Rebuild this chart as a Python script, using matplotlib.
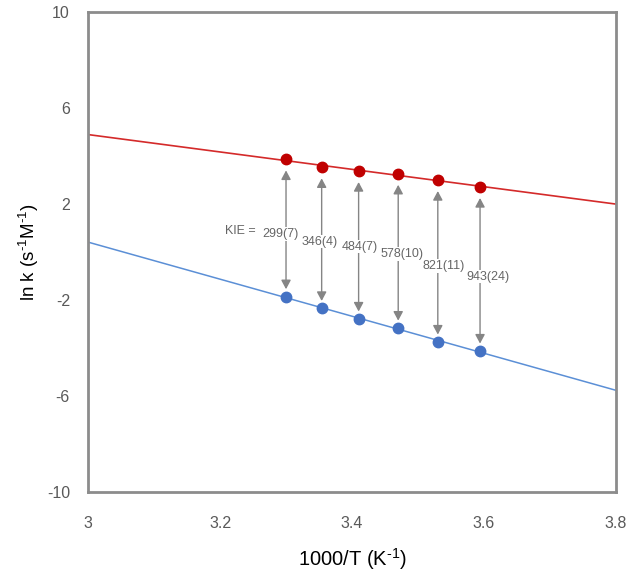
import matplotlib
matplotlib.use("Agg")
import matplotlib.pyplot as plt
from matplotlib import font_manager
import numpy as np

# Data
inv_T = [3.300, 3.354, 3.410, 3.470, 3.530, 3.594]
lnk_H = [3.86, 3.53, 3.375, 3.26, 3.00, 2.71]
lnk_D = [-1.86, -2.35, -2.79, -3.17, -3.75, -4.125]
kie_labels = ["299(7)", "346(4)", "484(7)", "578(10)", "821(11)", "943(24)"]
x_ticks = [3, 3.2, 3.4, 3.6, 3.8]
y_ticks = [-10, -6, -2, 2, 6, 10]

# Layout (label positions, data units)
label_x = [3.291, 3.3515, 3.412, 3.476, 3.539, 3.606]
label_y = [0.75, 0.43, 0.22, -0.08, -0.58, -1.03]

plt.rcParams['font.family'] = ['Liberation Sans', 'DejaVu Sans']
plt.rcParams['mathtext.fontset'] = 'custom'
plt.rcParams['mathtext.rm'] = 'Liberation Sans'
plt.rcParams['mathtext.it'] = 'Liberation Sans:italic'
plt.rcParams['mathtext.default'] = 'regular'
plt.rcParams['axes.unicode_minus'] = False

names = {f.name for f in font_manager.fontManager.ttflist}
if 'Liberation Sans Narrow' in names:
    lab_family, lab_size = ['Liberation Sans Narrow', 'Liberation Sans'], 11
else:
    lab_family, lab_size = ['Liberation Sans', 'DejaVu Sans'], 9.0

fig = plt.figure(figsize=(6.38, 5.86), dpi=100)
ax = fig.add_axes([0.138, 0.1604, 0.8275, 0.8191])

xs = np.array([3.0, 3.8])
red_fit = np.polyfit(inv_T, lnk_H, 1)
blue_fit = np.polyfit(inv_T, lnk_D, 1)
ax.plot(xs, np.polyval(red_fit, xs), color='#d42a2a', lw=1.2, zorder=2)
ax.plot(xs, np.polyval(blue_fit, xs), color='#5b8fd6', lw=1.1, zorder=2)
ax.plot(inv_T, lnk_H, 'o', color='#c00000', ms=7.5, zorder=3)
ax.plot(inv_T, lnk_D, 'o', color='#4472c4', ms=7.5, zorder=3)

gray = '#858585'
txt_color = '#666666'
for x, yh, yd in zip(inv_T, lnk_H, lnk_D):
    ax.annotate('', xy=(x, yh - 0.46), xytext=(x, yd + 0.31),
                arrowprops=dict(arrowstyle='<|-|>,head_length=0.45,head_width=0.24',
                                color=gray, lw=1.0,
                                mutation_scale=12, shrinkA=0, shrinkB=0),
                zorder=1)
for lx, ly, lab in zip(label_x, label_y, kie_labels):
    # white mask behind the label (drawn below all label texts)
    ax.text(lx, ly, lab, ha='center', va='center', fontsize=lab_size,
            family=lab_family, color='none',
            bbox=dict(facecolor='white', edgecolor='none', pad=0.5), zorder=4)
    ax.text(lx, ly, lab, ha='center', va='center', fontsize=lab_size,
            family=lab_family, color=txt_color, zorder=5)
ax.text(3.230, 0.89, 'KIE =', ha='center', va='center', fontsize=lab_size,
        family=lab_family, color=txt_color, zorder=5)

ax.set_xlim(3, 3.8)
ax.set_ylim(-10, 10)
ax.set_xticks(x_ticks)
ax.set_xticklabels([f"{t:g}" for t in x_ticks])
ax.set_yticks(y_ticks)
ax.set_yticklabels([str(t) for t in y_ticks])
ax.tick_params(axis='both', length=0, labelsize=11.5, colors='#595959')
ax.tick_params(axis='x', pad=17)
ax.tick_params(axis='y', pad=13)
for s in ax.spines.values():
    s.set_color('#8c8c8c')
    s.set_linewidth(2)

ax.set_xlabel(r'1000/T (K$^{\text{-1}}$)', fontsize=14.5, color='black', labelpad=11)
ax.set_ylabel(r'ln k (s$^{\text{-1}}$M$^{\text{-1}}$)', fontsize=13.5, color='black', labelpad=4)

fig.savefig('out.png', dpi=100)
